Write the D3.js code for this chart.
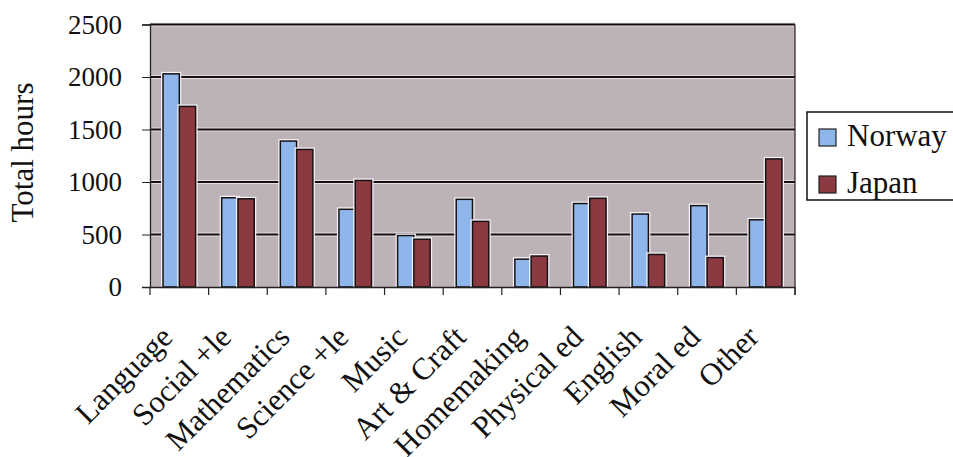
<!DOCTYPE html>
<html>
<head>
<meta charset="utf-8">
<script src="https://cdn.jsdelivr.net/npm/d3@7"></script>
<style>
  body { margin: 0; background: #fff; }
  svg text { font-family: "Liberation Serif", "DejaVu Serif", serif; fill: #111; }
</style>
</head>
<body>
<svg id="chart" width="953" height="457"></svg>
<script>
const subjects = ["Language", "Social +le", "Mathematics", "Science +le", "Music",
  "Art & Craft", "Homemaking", "Physical ed", "English", "Moral ed", "Other"];
const countries = ["Norway", "Japan"];
const norway = [2030, 850, 1390, 740, 490, 835, 265, 795, 695, 775, 640];
const japan = [1720, 840, 1310, 1015, 455, 625, 295, 845, 310, 280, 1220];
const yTicks = [0, 500, 1000, 1500, 2000, 2500];
const colors = { Norway: "#8fb6ea", Japan: "#8a3a40" };
const serif = "'Liberation Serif', 'DejaVu Serif', serif";

const svg = d3.select("svg#chart");
const margin = { top: 24.5, left: 150, right: 158, bottom: 170 };
const innerWidth = svg.attr("width") - margin.left - margin.right;
const innerHeight = svg.attr("height") - margin.top - margin.bottom;

const rows = subjects.map((s, i) => ({ subject: s, Norway: norway[i], Japan: japan[i] }));

const x0 = d3.scaleBand().domain(subjects).range([0, innerWidth]);
const x1 = d3.scaleBand().domain(countries).range([0, x0.bandwidth()])
  .paddingInner(0).paddingOuter(0.8);
const y = d3.scaleLinear().domain([0, 2500]).range([innerHeight, 0]);

const g = svg.append("g").attr("transform", `translate(${margin.left},${margin.top})`);

// plot background
g.append("rect")
  .attr("width", innerWidth)
  .attr("height", innerHeight)
  .attr("fill", "#bdb2b7");

// gridlines with a light halo
g.selectAll("line.halo")
  .data(yTicks.slice(1))
  .join("line")
  .attr("class", "halo")
  .attr("x1", 0).attr("x2", innerWidth)
  .attr("y1", (d) => y(d)).attr("y2", (d) => y(d))
  .attr("stroke", "#e6dde1").attr("stroke-width", 4);
g.selectAll("line.grid")
  .data(yTicks.slice(1))
  .join("line")
  .attr("class", "grid")
  .attr("x1", 0).attr("x2", innerWidth)
  .attr("y1", (d) => y(d)).attr("y2", (d) => y(d))
  .attr("stroke", "#141012").attr("stroke-width", 2);

// bars
let groups = g.selectAll("g.subject")
  .data(rows)
  .join("g")
  .attr("class", "subject")
  .attr("transform", (d) => `translate(${x0(d.subject)},0)`);
groups.selectAll("rect.bar")
  .data((d) => countries.map((c) => ({ country: c, value: d[c] })))
  .join("rect")
  .attr("class", "bar")
  .attr("x", (d) => x1(d.country))
  .attr("y", (d) => y(d.value))
  .attr("width", x1.bandwidth())
  .attr("height", (d) => innerHeight - y(d.value))
  .attr("fill", (d) => colors[d.country])
  .attr("stroke", "#f6f2f4")
  .attr("stroke-width", 4)
  .clone(true)
  .attr("stroke", "#161214")
  .attr("stroke-width", 1.5);

// frame (right side)
g.append("line")
  .attr("x1", innerWidth).attr("x2", innerWidth)
  .attr("y1", 0).attr("y2", innerHeight + 8)
  .attr("stroke", "#222").attr("stroke-width", 1.2);

// y axis
let yAxis = d3.axisLeft(y).tickValues(yTicks).tickSize(8).tickPadding(20)
  .tickFormat(d3.format("d"));
let yG = g.append("g").call(yAxis);
yG.select(".domain").attr("stroke", "#222").attr("stroke-width", 1.3);
yG.selectAll(".tick line").attr("stroke", "#222");
yG.selectAll("text")
  .style("font-size", "27px")
  .style("font-family", serif)
  .attr("fill", "#111");

// x axis ticks at category boundaries
let xAxis = d3.axisBottom(x0).tickSize(0).tickFormat("");
let xG = g.append("g").attr("transform", `translate(0,${innerHeight})`).call(xAxis);
xG.select(".domain").attr("stroke", "#222").attr("stroke-width", 1.3);
xG.selectAll("line.sep")
  .data(subjects.concat([null]))
  .join("line")
  .attr("class", "sep")
  .attr("x1", (d, i) => i * x0.step()).attr("x2", (d, i) => i * x0.step())
  .attr("y1", 0).attr("y2", 8)
  .attr("stroke", "#222").attr("stroke-width", 1.2);

// category labels
g.selectAll("text.cat")
  .data(subjects)
  .join("text")
  .attr("class", "cat")
  .attr("text-anchor", "end")
  .attr("transform", (d) =>
    `translate(${x0(d) + x0.bandwidth() / 2 - 5},${innerHeight + 52}) rotate(-45)`)
  .style("font-size", "31px")
  .style("font-family", serif)
  .text((d) => d);

// y axis title
svg.append("text")
  .attr("text-anchor", "middle")
  .attr("transform", `translate(33,${margin.top + 128}) rotate(-90)`)
  .style("font-size", "31px")
  .style("font-family", serif)
  .text("Total hours");

// legend
let legend = svg.append("g").attr("transform", "translate(807,112)");
legend.append("rect")
  .attr("width", 160).attr("height", 88)
  .attr("fill", "#fff").attr("stroke", "#111").attr("stroke-width", 1.5);
countries.forEach((c, i) => {
  legend.append("rect")
    .attr("x", 12).attr("y", 17 + i * 47)
    .attr("width", 17).attr("height", 17)
    .attr("fill", colors[c]).attr("stroke", "#222").attr("stroke-width", 1.2);
  legend.append("text")
    .attr("x", 40).attr("y", 34 + i * 47)
    .style("font-size", "31px")
    .style("font-family", serif)
    .text(c);
});
</script>
</body>
</html>
